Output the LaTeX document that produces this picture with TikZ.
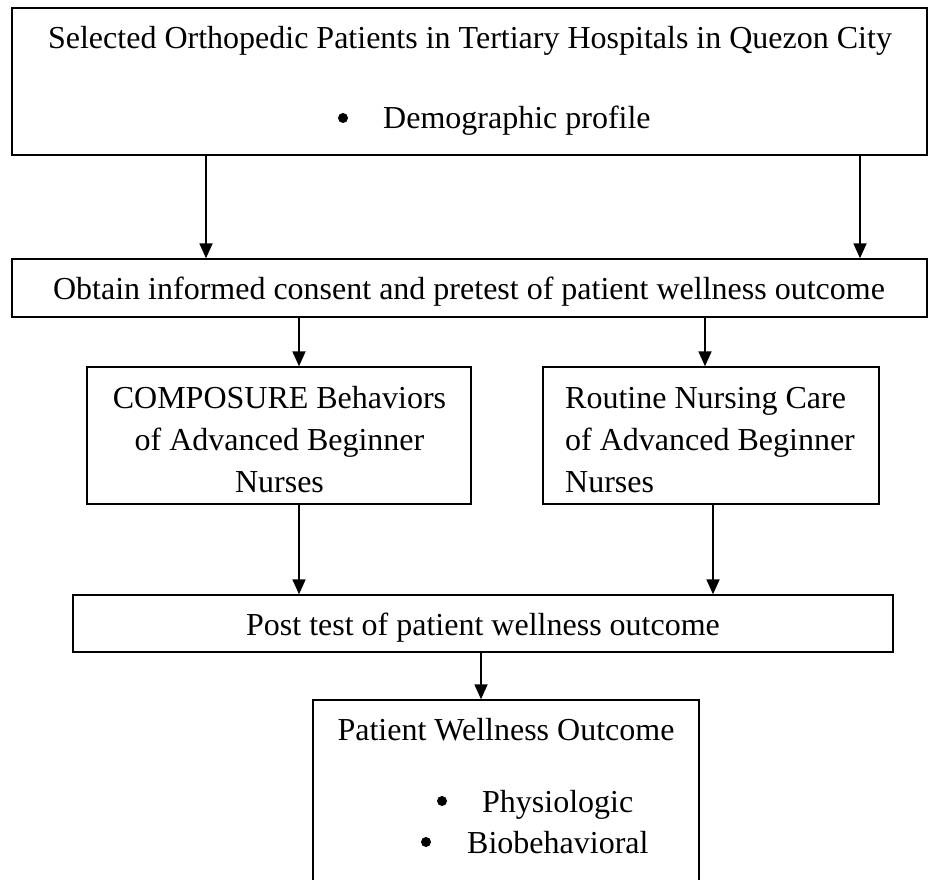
\documentclass[tikz,border=0pt]{standalone}
\usepackage{fontspec}
\setmainfont{Liberation Serif}
\usetikzlibrary{arrows.meta}
\begin{document}
\begin{tikzpicture}[x=1pt,y=-1pt,
  box/.style={draw=black, line width=1.4pt, rectangle, inner sep=0pt},
  txt/.style={inner sep=0pt, anchor=base, font=\fontsize{32}{38}\selectfont},
  ltxt/.style={txt, anchor=base west},
  dot/.style={circle, fill=black, inner sep=0pt, minimum size=10pt},
  flow/.style={line width=1.8pt, -{Triangle[length=15pt,width=13pt]}}]
\useasboundingbox (0,0) rectangle (935,880);
\clip (0,0) rectangle (935,880);

% boxes
\node[box, minimum width=915pt, minimum height=147pt] (b1) at (469.5,81.5) {};
\node[box, minimum width=915pt, minimum height=58pt]  (b2) at (469.5,288) {};
\node[box, minimum width=384pt, minimum height=137pt] (b3) at (279,435.5) {};
\node[box, minimum width=336pt, minimum height=137pt] (b4) at (711,435.5) {};
\node[box, minimum width=820pt, minimum height=57pt]  (b5) at (483,623.5) {};
\node[box, minimum width=386pt, minimum height=200pt] (b6) at (506,800) {};

% box texts
\node[txt] (t1) at (470,49) {Selected Orthopedic Patients in Tertiary Hospitals in Quezon City};
\node[dot] (t1b) at (343,118) {};
\node[ltxt] (t1c) at (383,129) {Demographic profile};

\node[txt] (t2) at (469,299) {Obtain informed consent and pretest of patient wellness outcome};

\node[txt] (t3a) at (279.5,408) {COMPOSURE Behaviors};
\node[txt] (t3b) at (279.5,450) {of Advanced Beginner};
\node[txt] (t3c) at (279.5,492) {Nurses};

\node[ltxt] (t4a) at (565,408) {Routine Nursing Care};
\node[ltxt] (t4b) at (565,450) {of Advanced Beginner};
\node[ltxt] (t4c) at (565,492) {Nurses};

\node[txt] (t5) at (483,635) {Post test of patient wellness outcome};

\node[txt] (t6) at (506,740) {Patient Wellness Outcome};
\node[dot] (t6a) at (442,801) {};
\node[ltxt] (t6b) at (482,812) {Physiologic};
\node[dot] (t6c) at (426,842) {};
\node[ltxt] (t6d) at (467,853) {Biobehavioral};

% connector columns
\coordinate (c1) at (206,0);
\coordinate (c2) at (860,0);
\coordinate (c3) at (299,0);
\coordinate (c4) at (705,0);
\coordinate (c5) at (713,0);
\coordinate (c6) at (481,0);

% connectors
\draw[flow] (b1.south -| c1) -- (b2.north -| c1);
\draw[flow] (b1.south -| c2) -- (b2.north -| c2);
\draw[flow] (b2.south -| c3) -- (b3.north -| c3);
\draw[flow] (b2.south -| c4) -- (b4.north -| c4);
\draw[flow] (b3.south -| c3) -- (b5.north -| c3);
\draw[flow] (b4.south -| c5) -- (b5.north -| c5);
\draw[flow] (b5.south -| c6) -- (b6.north -| c6);
\end{tikzpicture}
\end{document}
